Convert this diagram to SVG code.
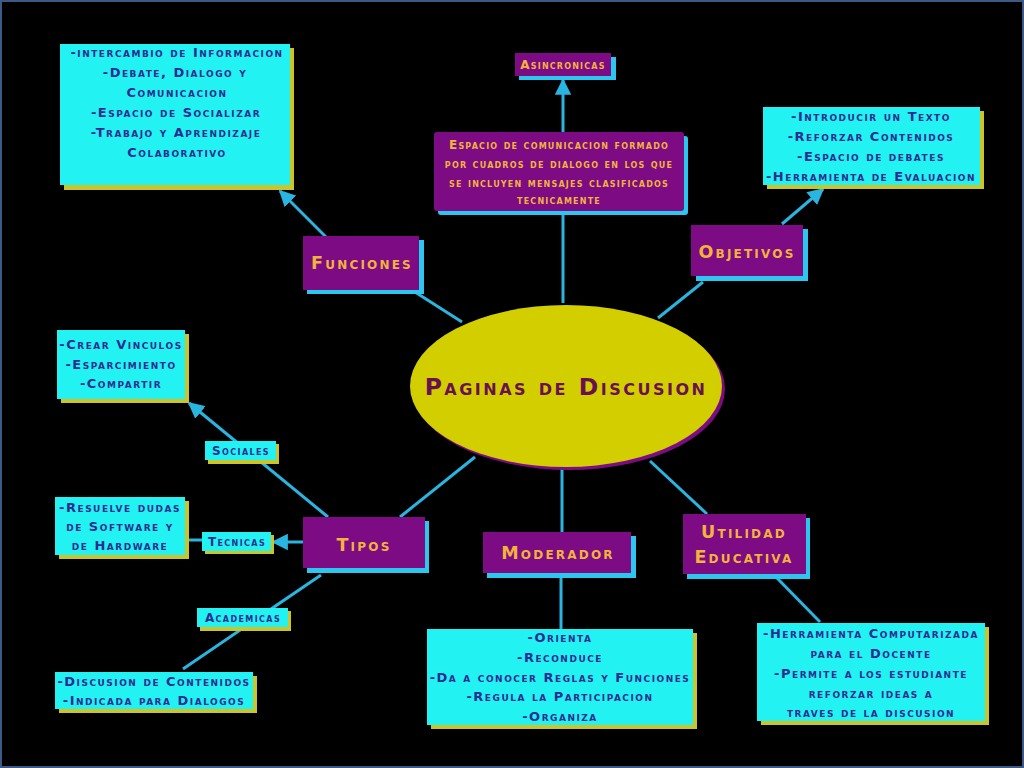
<svg xmlns="http://www.w3.org/2000/svg" width="1024" height="768" viewBox="0 0 1024 768">
<defs>
<style>
.cb{fill:#22f2f2}
.ys{fill:#c9c52a}
.pb{fill:#7c0b84}
.cs{fill:#2cc6ee}
.lt{fill:#2b2d8f;font-family:"DejaVu Sans",sans-serif;font-weight:bold;font-size:13px;font-variant:small-caps;letter-spacing:1.5px;text-anchor:middle}
.st{fill:#2b2d8f;font-family:"DejaVu Sans",sans-serif;font-weight:bold;font-size:12px;font-variant:small-caps;letter-spacing:1.4px;text-anchor:middle}
.ot{fill:#f2b33c;font-family:"DejaVu Sans",sans-serif;font-weight:bold;font-size:12px;font-variant:small-caps;letter-spacing:1.2px;text-anchor:middle}
.ht{fill:#f2b33c;font-family:"DejaVu Sans",sans-serif;font-weight:bold;font-size:17.5px;font-variant:small-caps;letter-spacing:2.2px;text-anchor:middle}
.tt{fill:#6a1050;font-family:"DejaVu Sans",sans-serif;font-weight:bold;font-size:23.5px;font-variant:small-caps;letter-spacing:2.5px;text-anchor:middle}
.conn{stroke:#2ab4e0;stroke-width:3;fill:none}
</style>
<marker id="arr" viewBox="0 0 10 10" refX="9" refY="5" markerWidth="5.5" markerHeight="5.5" orient="auto" markerUnits="strokeWidth">
<path d="M0,0 L10,5 L0,10 z" fill="#2ab4e0"/>
</marker>
</defs>
<rect x="1" y="1" width="1022" height="766" fill="#000" stroke="#3b5a86" stroke-width="2"/>

<g id="connectors">
<line class="conn" x1="326" y1="237" x2="280" y2="191" marker-end="url(#arr)"/>
<line class="conn" x1="415" y1="292" x2="462" y2="322"/>
<line class="conn" x1="563" y1="303" x2="563" y2="80" marker-end="url(#arr)"/>
<line class="conn" x1="782" y1="224" x2="823" y2="189" marker-end="url(#arr)"/>
<line class="conn" x1="703" y1="282" x2="658" y2="318"/>
<line class="conn" x1="475" y1="457" x2="400" y2="517"/>
<line class="conn" x1="328" y1="517" x2="189" y2="403" marker-end="url(#arr)"/>
<line class="conn" x1="303" y1="542" x2="273" y2="542" marker-end="url(#arr)"/>
<line class="conn" x1="185" y1="540" x2="203" y2="540"/>
<line class="conn" x1="321" y1="575" x2="183" y2="669"/>
<line class="conn" x1="562" y1="468" x2="562" y2="532"/>
<line class="conn" x1="561" y1="578" x2="561" y2="629"/>
<line class="conn" x1="650" y1="461" x2="707" y2="514"/>
<line class="conn" x1="777" y1="578" x2="820" y2="622"/>
</g>

<g id="center">
<ellipse cx="569" cy="389" rx="156" ry="81" fill="#7c0b84"/>
<ellipse cx="566" cy="386" rx="156" ry="81" fill="#d2ce00"/>
<text class="tt" x="566" y="395">Paginas de Discusion</text>
</g>

<g id="funciones-list">
<rect class="ys" x="64" y="48" width="230" height="142"/>
<rect class="cb" x="60" y="44" width="230" height="141"/>
<text class="lt" x="177" y="57">-intercambio de Informacion</text>
<text class="lt" x="175" y="77">-Debate, Dialogo y</text>
<text class="lt" x="177" y="97">Comunicacion</text>
<text class="lt" x="176" y="117">-Espacio de Socializar</text>
<text class="lt" x="176" y="137">-Trabajo y Aprendizaje</text>
<text class="lt" x="177" y="157">Colaborativo</text>
</g>

<g id="asincronicas">
<rect class="cs" x="519" y="57" width="97" height="23"/>
<rect class="pb" x="515" y="53" width="96" height="23"/>
<text class="ot" x="563" y="69">Asincronicas</text>
</g>

<g id="descripcion">
<rect class="cs" x="438" y="136" width="250" height="79" rx="3"/>
<rect class="pb" x="434" y="132" width="250" height="79" rx="3"/>
<text class="ot" x="559" y="149">Espacio de comunicacion formado</text>
<text class="ot" x="559" y="168">por cuadros de dialogo en los que</text>
<text class="ot" x="559" y="187">se incluyen mensajes clasificados</text>
<text class="ot" x="559" y="204">tecnicamente</text>
</g>

<g id="objetivos-list">
<rect class="ys" x="767" y="111" width="217" height="78"/>
<rect class="cb" x="763" y="107" width="217" height="78"/>
<text class="lt" x="871" y="121">-Introducir un Texto</text>
<text class="lt" x="871" y="141">-Reforzar Contenidos</text>
<text class="lt" x="871" y="161">-Espacio de debates</text>
<text class="lt" x="871" y="181">-Herramienta de Evaluacion</text>
</g>

<g id="funciones">
<rect class="cs" x="307" y="240" width="117" height="54"/>
<rect class="pb" x="303" y="236" width="116" height="54"/>
<text class="ht" x="362" y="269">Funciones</text>
</g>

<g id="objetivos">
<rect class="cs" x="696" y="229" width="112" height="52"/>
<rect class="pb" x="691" y="225" width="112" height="51"/>
<text class="ht" x="747" y="258">Objetivos</text>
</g>

<g id="sociales-list">
<rect class="ys" x="61" y="334" width="128" height="69"/>
<rect class="cb" x="57" y="330" width="128" height="69"/>
<text class="lt" x="121" y="349">-Crear Vinculos</text>
<text class="lt" x="121" y="369">-Esparcimiento</text>
<text class="lt" x="121" y="388">-Compartir</text>
</g>

<g id="sociales">
<rect class="ys" x="208" y="444" width="71" height="20"/>
<rect class="cb" x="205" y="441" width="71" height="19"/>
<text class="st" x="241" y="455">Sociales</text>
</g>

<g id="tecnicas-list">
<rect class="ys" x="59" y="501" width="130" height="58"/>
<rect class="cb" x="55" y="497" width="130" height="58"/>
<text class="lt" x="120" y="512">-Resuelve dudas</text>
<text class="lt" x="120" y="531">de Software y</text>
<text class="lt" x="120" y="550">de Hardware</text>
</g>

<g id="tecnicas">
<rect class="ys" x="205" y="535" width="69" height="19"/>
<rect class="cb" x="202" y="532" width="69" height="19"/>
<text class="st" x="237" y="546">Tecnicas</text>
</g>

<g id="tipos">
<rect class="cs" x="307" y="521" width="122" height="52"/>
<rect class="pb" x="303" y="517" width="122" height="51"/>
<text class="ht" x="364" y="551">Tipos</text>
</g>

<g id="academicas">
<rect class="ys" x="200" y="611" width="91" height="20"/>
<rect class="cb" x="197" y="608" width="91" height="19"/>
<text class="st" x="243" y="622">Academicas</text>
</g>

<g id="academicas-list">
<rect class="ys" x="59" y="676" width="198" height="37"/>
<rect class="cb" x="55" y="672" width="198" height="37"/>
<text class="lt" x="154" y="686">-Discusion de Contenidos</text>
<text class="lt" x="154" y="705">-Indicada para Dialogos</text>
</g>

<g id="moderador">
<rect class="cs" x="487" y="536" width="149" height="42"/>
<rect class="pb" x="483" y="532" width="148" height="41"/>
<text class="ht" x="558" y="559">Moderador</text>
</g>

<g id="moderador-list">
<rect class="ys" x="431" y="633" width="266" height="96"/>
<rect class="cb" x="427" y="629" width="266" height="96"/>
<text class="lt" x="560" y="642">-Orienta</text>
<text class="lt" x="560" y="662">-Reconduce</text>
<text class="lt" x="560" y="682">-Da a conocer Reglas y Funciones</text>
<text class="lt" x="560" y="701">-Regula la Participacion</text>
<text class="lt" x="560" y="721">-Organiza</text>
</g>

<g id="utilidad">
<rect class="cs" x="687" y="518" width="123" height="61"/>
<rect class="pb" x="683" y="514" width="123" height="60"/>
<text class="ht" x="744" y="538">Utilidad</text>
<text class="ht" x="744" y="563">Educativa</text>
</g>

<g id="utilidad-list">
<rect class="ys" x="761" y="627" width="228" height="98"/>
<rect class="cb" x="757" y="623" width="228" height="98"/>
<text class="lt" x="871" y="638">-Herramienta Computarizada</text>
<text class="lt" x="871" y="658">para el Docente</text>
<text class="lt" x="871" y="678">-Permite a los estudiante</text>
<text class="lt" x="871" y="698">reforzar ideas a</text>
<text class="lt" x="871" y="717">traves de la discusion</text>
</g>
</svg>
